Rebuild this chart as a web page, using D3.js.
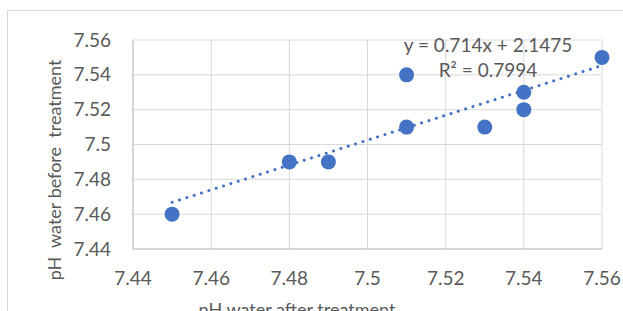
<!DOCTYPE html>
<html lang="en">
<head>
<meta charset="UTF-8">
<title>pH scatter</title>
<style>
  body { margin: 0; background: #fff; }
  text { font-family: Lato, 'Open Sans', sans-serif; fill: #595959; }
</style>
</head>
<body>
<div id="chart"></div>
<script src="https://cdn.jsdelivr.net/npm/d3@7/dist/d3.min.js"></script>
<script>
let afterVals = [7.45, 7.48, 7.49, 7.51, 7.51, 7.53, 7.54, 7.54, 7.56]
let beforeVals = [7.46, 7.49, 7.49, 7.54, 7.51, 7.51, 7.53, 7.52, 7.55]
let tickVals = [7.44, 7.46, 7.48, 7.5, 7.52, 7.54, 7.56]
let slope = 0.714
let intercept = 2.1475
let eqText = 'y = 0.714x + 2.1475'
let r2Text = 'R² = 0.7994'
let xtitle = 'pH water after treatment'
let ytitle = 'pH  water before  treatment'

let width = 623
let height = 311
let svg = d3.select('#chart').append('svg').attr('width', width).attr('height', height)

// outer chart border
svg.append('rect').attr('x', 7.5).attr('y', 10.5).attr('width', 640).attr('height', 320)
  .attr('fill', 'none').attr('stroke', '#d9d9d9')

let x = d3.scaleLinear().domain([7.44, 7.56]).range([133, 602])
let y = d3.scaleLinear().domain([7.44, 7.56]).range([249, 40])

// grid
let g = svg.append('g')
tickVals.forEach(v => {
  g.append('line').attr('x1', x(7.44)).attr('x2', x(7.56)).attr('y1', y(v)).attr('y2', y(v))
    .attr('stroke', '#d9d9d9').attr('stroke-width', 1)
  g.append('line').attr('y1', y(7.44)).attr('y2', y(7.56)).attr('x1', x(v)).attr('x2', x(v))
    .attr('stroke', '#d9d9d9').attr('stroke-width', 1)
})
// axis lines
g.append('line').attr('x1', x(7.44)).attr('x2', x(7.56)).attr('y1', y(7.44)).attr('y2', y(7.44)).attr('stroke', '#bfbfbf')
g.append('line').attr('x1', x(7.44)).attr('x2', x(7.44)).attr('y1', y(7.44)).attr('y2', y(7.56)).attr('stroke', '#bfbfbf')

// tick labels
let fmt = d => String(+d.toFixed(2))
svg.append('g').selectAll('text').data(tickVals).enter().append('text')
  .attr('x', 111).attr('y', d => y(d)).attr('dy', '0.35em')
  .attr('text-anchor', 'end').attr('font-size', 19).text(fmt)
svg.append('g').selectAll('text').data(tickVals).enter().append('text')
  .attr('x', d => x(d)).attr('y', 278).attr('dy', '0.35em')
  .attr('text-anchor', 'middle').attr('font-size', 19).text(fmt)

// axis titles
svg.append('text').attr('transform', 'translate(61,170) rotate(-90)')
  .attr('text-anchor', 'middle').attr('font-size', 18).style('white-space', 'pre').text(ytitle)
svg.append('text').attr('x', 297).attr('y', 316).attr('text-anchor', 'middle').attr('font-size', 18).text(xtitle)

// points
let pts = afterVals.map((v, i) => ({ x: v, y: beforeVals[i] }))
svg.append('g').selectAll('circle').data(pts).enter().append('circle')
  .attr('cx', d => x(d.x)).attr('cy', d => y(d.y)).attr('r', 7.5).attr('fill', '#4472c4')

// trendline
let x0 = d3.min(afterVals), x1 = d3.max(afterVals)
svg.append('line')
  .attr('x1', x(x0)).attr('y1', y(slope * x0 + intercept))
  .attr('x2', x(x1)).attr('y2', y(slope * x1 + intercept))
  .attr('stroke', '#4472c4').attr('stroke-width', 3).attr('stroke-linecap', 'round')
  .attr('stroke-dasharray', '0.1 7.6')

// equation
svg.append('text').attr('x', 488).attr('y', 45).attr('dy', '0.35em').attr('text-anchor', 'middle').attr('font-size', 19).text(eqText)
svg.append('text').attr('x', 488).attr('y', 70).attr('dy', '0.35em').attr('text-anchor', 'middle').attr('font-size', 19).text(r2Text)
</script>
</body>
</html>
